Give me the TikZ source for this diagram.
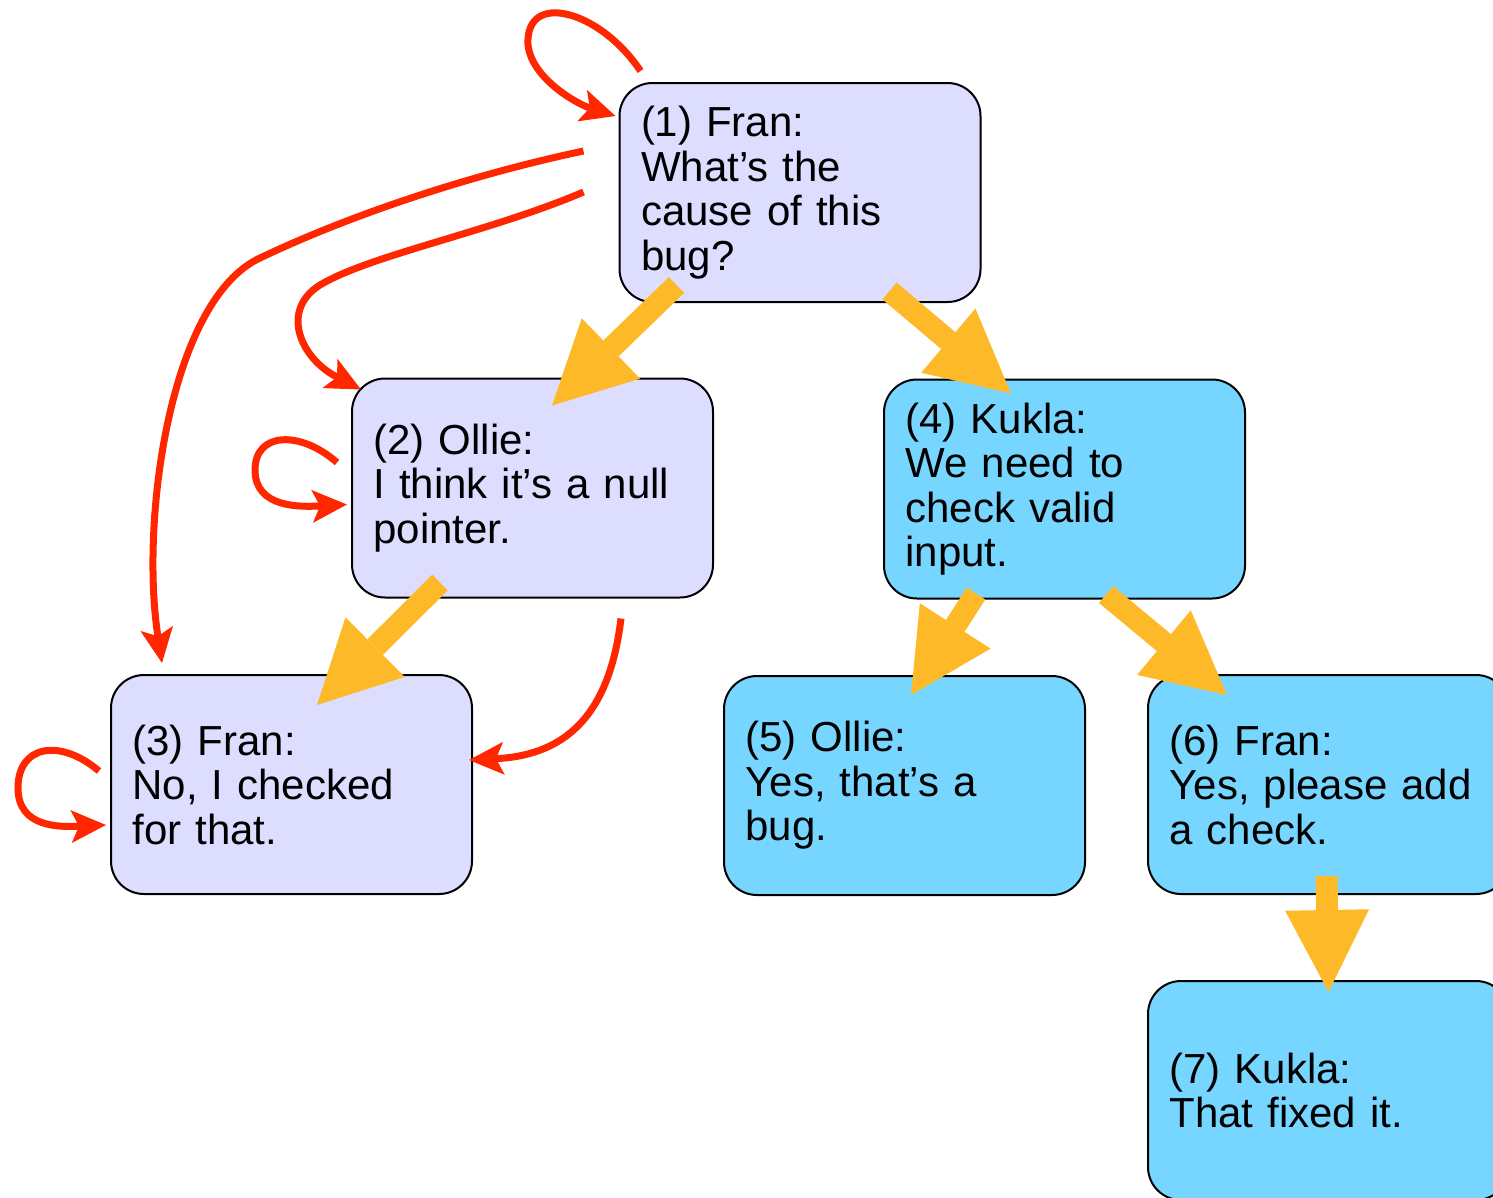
\documentclass[tikz,border=0pt]{standalone}
\usepackage{fontspec}
\setmainfont{Liberation Sans}
\usetikzlibrary{arrows.meta}
\definecolor{lavender}{HTML}{DDDDFF}
\definecolor{sky}{HTML}{76D6FF}
\definecolor{amber}{HTML}{FDB927}
\definecolor{signal}{HTML}{FF2600}
\begin{document}
\begin{tikzpicture}[x=1pt,y=-1pt,
  box/.style={draw=black, line width=2pt, rounded corners=33pt,
    minimum width=361pt, minimum height=219pt, text width=318pt,
    inner xsep=21pt, align=left,
    font=\fontsize{42pt}{44.5pt}\selectfont},
  lav/.style={box, fill=lavender},
  blu/.style={box, fill=sky},
  flow/.style={draw=amber, line width=22pt,
    -{Triangle[length=82pt, width=84pt, line width=0pt]}},
  reply/.style={draw=signal, line width=7pt,
    -{Stealth[length=35pt, width=33pt, inset=8pt, line width=0pt]}}]
\useasboundingbox (0,0) rectangle (1493,1197);

% messages
\node[lav] (n1) at (800,192.5)  {(1) Fran:\\What's the\\cause of this\\bug?};
\node[lav] (n2) at (532.5,488)  {(2) Ollie:\\I think it's a null\\pointer.};
\node[lav] (n3) at (291.5,784.5) {(3) Fran:\\No, I checked\\for that.};
\node[blu] (n4) at (1064.5,489) {(4) Kukla:\\We need to\\check valid\\input.};
\node[blu] (n5) at (904.5,785.5) {(5) Ollie:\\Yes, that's a\\bug.};
\node[blu] (n6) at (1328.5,784.5) {(6) Fran:\\Yes, please add\\a check.};
\node[blu] (n7) at (1328.5,1090.5) {(7) Kukla:\\That fixed it.};

% reply structure
\draw[flow] ([shift={(58,-18)}]n1.south west) -- ([shift={(201,28)}]n2.north west);
\draw[flow] ([shift={(-92,-12)}]n1.south east) -- ([shift={(128,15)}]n4.north west);
\draw[flow] ([shift={(89,-16)}]n2.south west) -- ([shift={(207,31)}]n3.north west);
\draw[flow] ([shift={(93,-6)}]n4.south west) -- ([shift={(188,20)}]n5.north west);
\draw[flow] ([shift={(-140,-5)}]n4.south east) -- ([shift={(80,21)}]n6.north west);
\draw[flow] ([shift={(-2,-19)}]n6.south) -- ([shift={(0,12)}]n7.north);

% red links
\draw[reply] ([shift={(22,-11)}]n1.north west)
  .. controls (600,10) and (525,-10) .. (528,45)
  .. controls (532,80) and (580,105) .. ([shift={(-3,34)}]n1.north west);
\draw[reply] ([shift={(-35,69)}]n1.north west)
  .. controls (470,175) and (350,215) .. (260,258)
  .. controls (170,300) and (140,520) .. ([shift={(52,-11)}]n3.north west);
\draw[reply] ([shift={(-35,110)}]n1.north west)
  .. controls (490,232) and (370,255) .. (320,285)
  .. controls (280,310) and (300,358) .. ([shift={(10,12)}]n2.north west);
\draw[reply] ([shift={(-14,85)}]n2.north west)
  .. controls (300,430) and (255,432) .. (255,470)
  .. controls (255,508) and (300,507) .. ([shift={(-4,127)}]n2.north west);
\draw[reply] ([shift={(-11,97)}]n3.north west)
  .. controls (60,738) and (18,745) .. (18,788)
  .. controls (18,828) and (60,827) .. ([shift={(-4,151)}]n3.north west);
\draw[reply] ([shift={(-93,20)}]n2.south east)
  .. controls (610,710) and (570,755) .. ([shift={(-4,86)}]n3.north east);
\end{tikzpicture}
\end{document}
